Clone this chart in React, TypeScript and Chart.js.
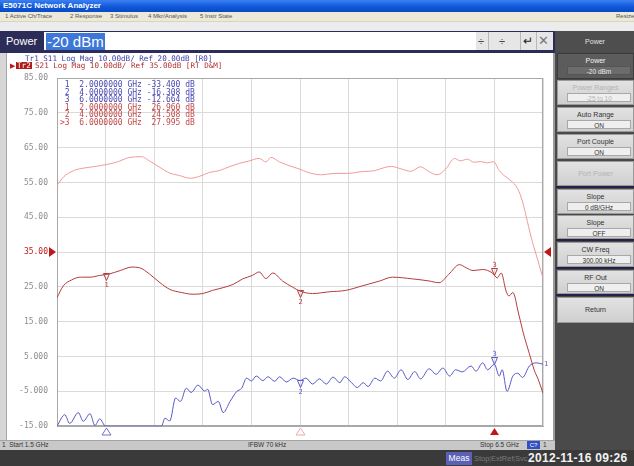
import React, { useEffect, useRef } from "react";
import { Chart, registerables } from "chart.js";
Chart.register(...registerables);

// ---------- stimulus / scale ----------
const FREQ_START = 1.5;
const FREQ_STOP = 6.5;
const FREQ_DIV = 0.5;
const TR2_TOP = 85;
const TR2_BOTTOM = -15;
const TR2_REF = 35;
const DB_DIV = 10;
const TR1_TOP = 70;
const TR1_BOTTOM = -30;

// ---------- Tr2 S21 data (GHz, dB) ----------
const s21Freq = [1.5, 1.565, 1.65, 1.74, 1.84, 1.94, 2.04, 2.15, 2.27, 2.35, 2.45, 2.56, 2.66, 2.78, 2.9, 3.0, 3.1, 3.21, 3.31, 3.41, 3.51, 3.58, 3.65, 3.72, 3.82, 3.92, 4.0, 4.13, 4.3, 4.47, 4.64, 4.82, 4.95, 5.16, 5.33, 5.43, 5.53, 5.64, 5.71, 5.78, 5.88, 5.98, 6.03, 6.07, 6.12, 6.15, 6.19, 6.25, 6.3, 6.36, 6.41, 6.45, 6.5];
const s21Db = [21.9, 25.3, 27.0, 27.8, 27.8, 28.3, 28.75, 29.7, 30.7, 30.5, 28.75, 26.2, 24.3, 23.4, 22.9, 23.1, 24.0, 24.8, 25.7, 27.3, 28.3, 29.3, 27.4, 29.0, 26.7, 25.0, 23.8, 23.1, 23.6, 24.0, 25.3, 26.7, 27.8, 27.3, 26.7, 26.2, 28.6, 31.4, 30.5, 29.7, 30.0, 29.0, 27.6, 29.0, 23.8, 22.4, 23.4, 17.2, 11.5, 5.8, 1.1, -1.5, -5.5];

// ---------- Tr2 S21 memory (GHz, dB) ----------
const memFreq = [1.5, 1.565, 1.67, 1.77, 1.87, 2.0, 2.11, 2.25, 2.37, 2.45, 2.56, 2.66, 2.76, 2.87, 2.97, 3.07, 3.17, 3.28, 3.38, 3.48, 3.58, 3.65, 3.7, 3.79, 3.89, 3.99, 4.08, 4.22, 4.35, 4.49, 4.63, 4.77, 4.87, 4.94, 5.04, 5.14, 5.24, 5.31, 5.41, 5.5, 5.59, 5.65, 5.72, 5.79, 5.86, 5.93, 5.99, 6.05, 6.1, 6.17, 6.24, 6.29, 6.34, 6.39, 6.44, 6.5];
const memDb = [54.1, 56.5, 58.4, 59.1, 59.5, 60.1, 60.8, 62.2, 62.4, 61.2, 59.3, 57.7, 57.0, 56.2, 56.8, 57.9, 58.4, 59.6, 60.5, 61.2, 61.9, 60.9, 62.2, 60.9, 59.8, 58.9, 57.9, 57.2, 57.6, 57.6, 58.1, 58.4, 59.3, 59.6, 58.9, 58.2, 59.5, 58.4, 57.2, 58.9, 61.9, 61.2, 61.7, 60.8, 61.0, 60.6, 61.0, 58.4, 57.0, 55.5, 53.2, 49.4, 43.7, 38.0, 33.3, 27.5];

// ---------- Tr1 S11 data (GHz, dB) ----------
const s11Freq = [1.5, 1.58, 1.63, 1.72, 1.77, 1.84, 1.89, 1.94, 2.0, 2.2, 2.4, 2.575, 2.61, 2.66, 2.72, 2.77, 2.83, 2.88, 2.95, 3.02, 3.05, 3.1, 3.16, 3.21, 3.28, 3.35, 3.4, 3.45, 3.5, 3.55, 3.62, 3.67, 3.74, 3.79, 3.86, 3.93, 4.0, 4.06, 4.13, 4.2, 4.27, 4.34, 4.41, 4.46, 4.53, 4.59, 4.65, 4.7, 4.77, 4.83, 4.9, 4.97, 5.04, 5.11, 5.18, 5.24, 5.33, 5.4, 5.47, 5.54, 5.6, 5.67, 5.76, 5.81, 5.88, 5.93, 6.0, 6.05, 6.08, 6.13, 6.19, 6.24, 6.29, 6.36, 6.43, 6.5];
const s11Db = [-30.5, -26.7, -29.2, -26.1, -28.6, -26.4, -29.8, -27.9, -33.4, -34.5, -33.0, -31.0, -27.7, -28.5, -21.9, -22.9, -19.1, -20.3, -18.2, -19.9, -19.4, -23.8, -22.9, -26.1, -22.9, -20.0, -19.1, -16.2, -17.0, -15.6, -16.9, -15.8, -17.1, -15.8, -17.3, -16.2, -16.9, -16.2, -17.9, -16.4, -17.9, -15.9, -17.5, -15.8, -17.5, -18.9, -17.5, -18.6, -16.2, -17.0, -14.2, -16.2, -13.8, -16.6, -14.3, -16.4, -13.5, -15.1, -13.3, -15.6, -13.8, -14.4, -12.7, -14.2, -11.8, -13.8, -12.2, -15.6, -13.8, -20.0, -15.6, -14.8, -16.0, -12.7, -11.8, -12.2];

// ---------- markers ----------
const markerNums = ["1", "2", "3"];
const markerFreq = [2, 4, 6];
const markerFreqText = ["2.0000000", "4.0000000", "6.0000000"];
const s11MarkerRead = ["-33.400", "-16.308", "-12.664"];
const s21MarkerRead = ["26.960", "24.508", "27.995"];
const markerLabelAbove = [false, false, true];

const C_S11 = "#5858c8";
const C_S21 = "#b43c3c";
const C_MEM = "#f29a9a";
const C_REF = "#c01818";

function interp(fs: number[], vs: number[], f: number) {
  for (let i = 0; i < fs.length - 1; i++) {
    if (f >= fs[i] && f <= fs[i + 1]) {
      const t = (f - fs[i]) / (fs[i + 1] - fs[i]);
      return vs[i] + t * (vs[i + 1] - vs[i]);
    }
  }
  return vs[vs.length - 1];
}

const overlay = {
  id: "naOverlay",
  beforeDatasetsDraw(chart: any) {
    const { ctx, chartArea: a } = chart;
    ctx.save();
    ctx.strokeStyle = "#a8a8a8";
    ctx.lineWidth = 1;
    ctx.strokeRect(Math.round(a.left) + 0.5, Math.round(a.top) + 0.5, Math.round(a.right - a.left) - 1, Math.round(a.bottom - a.top) - 1);
    ctx.restore();
  },
  afterDraw(chart: any) {
    const { ctx, chartArea: a, scales } = chart;
    const xs = scales.x, ys = scales.y, y2 = scales.y2;
    ctx.save();
    // reference position arrows
    const ry = Math.round(ys.getPixelForValue(TR2_REF));
    ctx.fillStyle = C_REF;
    ctx.beginPath();
    ctx.moveTo(a.left - 8, ry - 5);
    ctx.lineTo(a.left - 1, ry);
    ctx.lineTo(a.left - 8, ry + 5);
    ctx.closePath();
    ctx.fill();
    ctx.beginPath();
    ctx.moveTo(a.right + 8, ry - 5);
    ctx.lineTo(a.right + 1, ry);
    ctx.lineTo(a.right + 8, ry + 5);
    ctx.closePath();
    ctx.fill();

    ctx.font = '7px "DejaVu Sans Mono"';
    ctx.textAlign = "center";
    ctx.lineWidth = 1;
    const drawMk = (px: number, py: number, color: string, label: string, above: boolean) => {
      px = Math.round(px) + 0.5;
      py = Math.round(py) + 0.5;
      ctx.strokeStyle = color;
      ctx.fillStyle = color;
      ctx.beginPath();
      if (above) {
        ctx.moveTo(px - 3, py - 7);
        ctx.lineTo(px + 3, py - 7);
        ctx.lineTo(px, py);
      } else {
        ctx.moveTo(px - 3, py - 1);
        ctx.lineTo(px + 3, py - 1);
        ctx.lineTo(px, py + 6);
      }
      ctx.closePath();
      ctx.stroke();
      if (above) {
        ctx.textBaseline = "bottom";
        ctx.fillText(label, px, py - 7);
      } else {
        ctx.textBaseline = "top";
        ctx.fillText(label, px, py + 7);
      }
    };
    markerFreq.forEach((f, i) => {
      const px = xs.getPixelForValue(f);
      drawMk(px, ys.getPixelForValue(interp(s21Freq, s21Db, f)), C_S21, markerNums[i], markerLabelAbove[i]);
      const v11 = interp(s11Freq, s11Db, f);
      if (v11 > TR1_BOTTOM) drawMk(px, y2.getPixelForValue(v11), C_S11, markerNums[i], markerLabelAbove[i]);
    });

    // stimulus marker indicators below the grid
    const indColors = ["#7070c8", "#f0a8a8", C_REF];
    markerFreq.forEach((f, i) => {
      const px = Math.round(xs.getPixelForValue(f)) + 0.5;
      const b = Math.round(a.bottom);
      ctx.beginPath();
      ctx.moveTo(px, b + 2);
      ctx.lineTo(px + 4.5, b + 9);
      ctx.lineTo(px - 4.5, b + 9);
      ctx.closePath();
      if (i === 2) {
        ctx.fillStyle = indColors[i];
        ctx.fill();
      } else {
        ctx.strokeStyle = indColors[i];
        ctx.stroke();
      }
    });

    // trace end labels
    ctx.textAlign = "left";
    ctx.textBaseline = "middle";
    ctx.fillStyle = C_S11;
    ctx.fillText("1", a.right + 1, y2.getPixelForValue(s11Db[s11Db.length - 1]));
    ctx.restore();
  },
};

const mono = '"DejaVu Sans Mono", "Liberation Mono", monospace';
const sans = '"Liberation Sans", Arial, sans-serif';

const softkeys = [
  { label: "Power", value: "-20 dBm", top: 53, h: 26, mode: "sel" },
  { label: "Power Ranges", value: "-25 to 10", top: 80, h: 25, mode: "dis" },
  { label: "Auto Range", value: "ON", top: 107, h: 25, mode: "" },
  { label: "Port Couple", value: "ON", top: 134, h: 25, mode: "" },
  { label: "Port Power", value: "", top: 161, h: 25, mode: "dis" },
  { label: "Slope", value: "0 dB/GHz", top: 189, h: 25, mode: "" },
  { label: "Slope", value: "OFF", top: 215, h: 24, mode: "" },
  { label: "CW Freq", value: "300.00 kHz", top: 242, h: 25, mode: "" },
  { label: "RF Out", value: "ON", top: 270, h: 24, mode: "" },
  { label: "Return", value: "", top: 297, h: 26, mode: "" },
];
const separators = [186, 239, 267, 294];

const menuItems = [
  { t: "1 Active Ch/Trace", x: 5 },
  { t: "2 Response", x: 70 },
  { t: "3 Stimulus", x: 110 },
  { t: "4 Mkr/Analysis", x: 148 },
  { t: "5 Instr State", x: 200 },
];

const statusItems = [
  { t: "Stop", x: 474 },
  { t: "|", x: 489 },
  { t: "ExtRef", x: 491 },
  { t: "|", x: 513 },
  { t: "Svc", x: 515 },
];

export default function App() {
  const ref = useRef<HTMLCanvasElement | null>(null);
  useEffect(() => {
    if (!ref.current) return;
    const chart = new Chart(ref.current, {
      type: "line",
      data: {
        datasets: [
          {
            label: "Tr2 S21 Memory",
            data: memFreq.map((f, i) => ({ x: f, y: memDb[i] })),
            borderColor: C_MEM,
            borderWidth: 1,
            pointRadius: 0,
            cubicInterpolationMode: "monotone",
            yAxisID: "y",
          },
          {
            label: "Tr2 S21",
            data: s21Freq.map((f, i) => ({ x: f, y: s21Db[i] })),
            borderColor: C_S21,
            borderWidth: 1,
            pointRadius: 0,
            cubicInterpolationMode: "monotone",
            yAxisID: "y",
          },
          {
            label: "Tr1 S11",
            data: s11Freq.map((f, i) => ({ x: f, y: Math.max(s11Db[i], TR1_BOTTOM) })),
            borderColor: C_S11,
            borderWidth: 1,
            pointRadius: 0,
            cubicInterpolationMode: "monotone",
            yAxisID: "y2",
          },
        ],
      } as any,
      options: {
        animation: false,
        responsive: false,
        events: [],
        layout: { padding: { top: 23, right: 12, bottom: 10, left: 0 } },
        plugins: { legend: { display: false }, tooltip: { enabled: false } },
        scales: {
          x: {
            type: "linear",
            min: FREQ_START,
            max: FREQ_STOP,
            ticks: { stepSize: FREQ_DIV, display: false },
            grid: { color: "#dadada", drawTicks: false },
            border: { color: "#a8a8a8" },
          },
          y: {
            min: TR2_BOTTOM,
            max: TR2_TOP,
            ticks: {
              stepSize: DB_DIV,
              padding: 9,
              font: { family: mono, size: 8 },
              color: (c: any) => (c.tick && c.tick.value === TR2_REF ? C_REF : "#8c8c8c"),
              callback: (v: any) => Number(v).toPrecision(4),
            },
            grid: { color: "#dadada", drawTicks: false },
            border: { color: "#a8a8a8" },
            afterFit: (s: any) => {
              s.width = 57;
            },
          },
          y2: { display: false, min: TR1_BOTTOM, max: TR1_TOP },
        },
      } as any,
      plugins: [overlay],
    });
    return () => chart.destroy();
  }, []);

  const abs = (o: any) => ({ position: "absolute" as const, ...o });

  return (
    <div style={{ position: "fixed", left: 0, top: 0, width: 634, height: 466, overflow: "hidden", background: "#ececec", fontFamily: sans }}>
      {/* title bar */}
      <div style={abs({ left: 0, top: 0, width: 634, height: 12, background: "linear-gradient(#3b80f2, #1058da 55%, #0a4ac4)" })} />
      <div style={abs({ left: 3, top: 0, height: 12, lineHeight: "12px", fontSize: 8, fontWeight: "bold", color: "#fff", whiteSpace: "nowrap" })}>E5071C Network Analyzer</div>
      {/* menu */}
      <div style={abs({ left: 0, top: 12, width: 634, height: 9, background: "#ece9d8", borderBottom: "1px solid #d8d4c0" })} />
      {menuItems.map((m, i) => (
        <div key={i} style={abs({ left: m.x, top: 12, lineHeight: "9px", fontSize: 6, color: "#555", whiteSpace: "nowrap" })}>{m.t}</div>
      ))}
      <div style={abs({ left: 616, top: 12, lineHeight: "9px", fontSize: 6, color: "#555", whiteSpace: "nowrap" })}>Resize</div>

      {/* entry bar */}
      <div style={abs({ left: 0, top: 31, width: 555, height: 22, background: "#2c2c58" })} />
      <div style={abs({ left: 6, top: 32, height: 18, lineHeight: "18px", fontSize: 11, color: "#fff" })}>Power</div>
      <div style={abs({ left: 44, top: 32, width: 432, height: 18, background: "#fff" })} />
      <div style={abs({ left: 46, top: 33, height: 17, lineHeight: "17px", fontSize: 15, color: "#fff", background: "#3d78d8", padding: "0 1px", whiteSpace: "nowrap" })}>-20 dBm</div>
      <div style={abs({ left: 476, top: 32, width: 77, height: 18, background: "#e6e6e6" })} />
      <div style={abs({ left: 488, top: 32, width: 1, height: 18, background: "#b8b8b8" })} />
      <div style={abs({ left: 520, top: 32, width: 1, height: 18, background: "#b8b8b8" })} />
      <div style={abs({ left: 536, top: 32, width: 1, height: 18, background: "#b8b8b8" })} />
      <div style={abs({ left: 478, top: 32, lineHeight: "18px", fontSize: 11, color: "#444" })}>÷</div>
      <div style={abs({ left: 499, top: 32, lineHeight: "18px", fontSize: 11, color: "#444" })}>÷</div>
      <div style={abs({ left: 523, top: 32, lineHeight: "18px", fontSize: 12, color: "#222" })}>↵</div>
      <div style={abs({ left: 538, top: 32, lineHeight: "18px", fontSize: 13, color: "#777" })}>✕</div>

      {/* softkey panel */}
      <div style={abs({ left: 555, top: 31, width: 79, height: 419, background: "#4a4a4a" })} />
      <div style={abs({ left: 556, top: 31, width: 78, height: 21, lineHeight: "21px", background: "#4e4e4e", color: "#e0e0e0", fontSize: 7, textAlign: "center" })}>Power</div>
      {separators.map((y, i) => (
        <div key={i} style={abs({ left: 556, top: y, width: 78, height: 2, background: "#23234a" })} />
      ))}
      {softkeys.map((k, i) => {
        const sel = k.mode === "sel";
        const dis = k.mode === "dis";
        return (
          <div key={i} style={abs({ left: 557, top: k.top, width: 77, height: k.h, boxSizing: "border-box", border: "1px solid " + (sel ? "#3c3c3c" : "#9a9a9a"), background: sel ? "#5c5c5c" : "linear-gradient(#e2e2e2, #cfcfcf)" })}>
            <div style={abs({ left: 0, top: k.value ? 2 : 0, width: 75, lineHeight: k.value ? "9px" : k.h - 2 + "px", fontSize: 7, textAlign: "center", color: sel ? "#f4f4f4" : dis ? "#b4b4b4" : "#333", whiteSpace: "nowrap" })}>{k.label}</div>
            {k.value ? (
              <div style={abs({ left: 9, top: 12, width: 64, height: 9, lineHeight: "9px", boxSizing: "border-box", border: "1px solid " + (sel ? "#555" : "#a8a8a8"), background: sel ? "#6c6c6c" : "#efefef", fontSize: 6.5, textAlign: "center", color: sel ? "#e8e8e8" : dis ? "#b4b4b4" : "#333", whiteSpace: "nowrap" })}>{k.value}</div>
            ) : null}
          </div>
        );
      })}

      {/* plot panel */}
      <div style={abs({ left: 0, top: 53, width: 555, height: 387, background: "#fff" })} />
      <div style={abs({ left: 0, top: 53, width: 6, height: 387, background: "#d6d6d6" })} />
      <div style={abs({ left: 6, top: 53, width: 1, height: 387, background: "#a8a8a8" })} />
      <div style={abs({ left: 553, top: 53, width: 2, height: 397, background: "#9a9a9a" })} />
      <canvas ref={ref} width={555} height={385} style={abs({ left: 0, top: 55, width: 555, height: 385, display: "block" })} />

      {/* trace header */}
      <div style={abs({ left: 25, top: 55, lineHeight: "7px", fontSize: 7.6, fontFamily: mono, color: "#3c3ca8", whiteSpace: "pre" })}>Tr1 S11 Log Mag 10.00dB/ Ref 20.00dB [R0]</div>
      <div style={abs({ left: 10, top: 62, lineHeight: "8px", fontSize: 7, color: C_REF })}>▶</div>
      <div style={abs({ left: 16, top: 62, height: 7, lineHeight: "7px", fontSize: 7.6, fontFamily: mono, color: "#fff", background: "#b01c1c", padding: "0 1px", whiteSpace: "pre" })}>Tr2</div>
      <div style={abs({ left: 35, top: 62, lineHeight: "7px", fontSize: 7.6, fontFamily: mono, color: "#b03030", whiteSpace: "pre" })}>S21 Log Mag 10.00dB/ Ref 35.00dB [RT D&amp;M]</div>

      {/* marker readout */}
      {markerNums.map((n, i) => (
        <div key={"a" + i} style={abs({ left: 60, top: 81 + i * 7.5, lineHeight: "7.5px", fontSize: 8, fontFamily: mono, color: "#4a4ab4", whiteSpace: "pre" })}>{" " + n + "  " + markerFreqText[i] + " GHz " + s11MarkerRead[i].padStart(7, " ") + " dB"}</div>
      ))}
      {markerNums.map((n, i) => (
        <div key={"b" + i} style={abs({ left: 60, top: 103.5 + i * 7.5, lineHeight: "7.5px", fontSize: 8, fontFamily: mono, color: "#c04a4a", whiteSpace: "pre" })}>{(i === 2 ? ">" : " ") + n + "  " + markerFreqText[i] + " GHz " + s21MarkerRead[i].padStart(7, " ") + " dB"}</div>
      ))}

      {/* channel status bar */}
      <div style={abs({ left: 0, top: 440, width: 555, height: 10, background: "#c8c8c8", borderTop: "1px solid #a4a4a4", boxSizing: "border-box" })} />
      <div style={abs({ left: 2, top: 440, lineHeight: "10px", fontSize: 6.5, color: "#333", whiteSpace: "pre" })}>1  Start 1.5 GHz</div>
      <div style={abs({ left: 248, top: 440, lineHeight: "10px", fontSize: 6.5, color: "#333", whiteSpace: "pre" })}>IFBW 70 kHz</div>
      <div style={abs({ left: 480, top: 440, lineHeight: "10px", fontSize: 6.5, color: "#333", whiteSpace: "pre" })}>Stop 6.5 GHz</div>
      <div style={abs({ left: 527, top: 441, width: 13, height: 8, lineHeight: "8px", background: "#3050c4", color: "#fff", fontSize: 6, textAlign: "center" })}>C?</div>
      <div style={abs({ left: 543, top: 440, lineHeight: "10px", fontSize: 6.5, color: "#333" })}>1</div>

      {/* instrument status bar */}
      <div style={abs({ left: 0, top: 450, width: 634, height: 16, background: "#3a3a3a" })} />
      <div style={abs({ left: 446, top: 452, width: 26, height: 13, lineHeight: "13px", background: "#5a60b4", color: "#fff", fontSize: 8.5, textAlign: "center" })}>Meas</div>
      {statusItems.map((s, i) => (
        <div key={i} style={abs({ left: s.x, top: 452, lineHeight: "13px", fontSize: 7.5, color: s.t === "|" ? "#5e5e5e" : "#7a7a7a", whiteSpace: "pre" })}>{s.t}</div>
      ))}
      <div style={abs({ left: 528, top: 451, lineHeight: "15px", fontSize: 12, fontWeight: "bold", color: "#f2f2f2", whiteSpace: "pre", letterSpacing: 0.3 })}>2012-11-16 09:26</div>
    </div>
  );
}
